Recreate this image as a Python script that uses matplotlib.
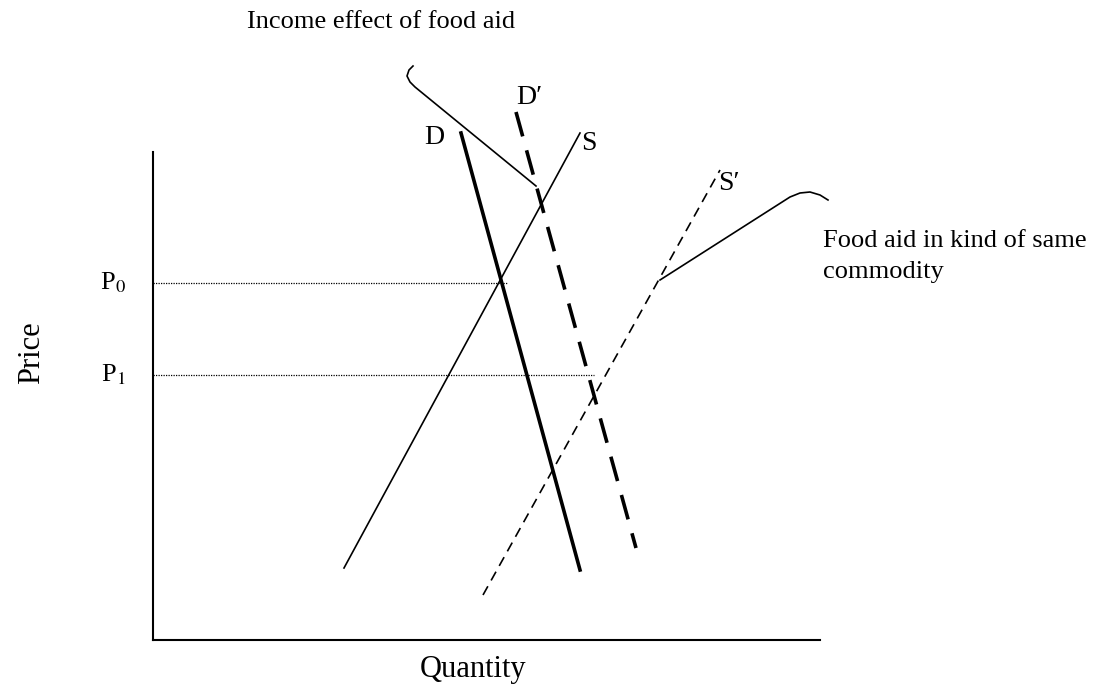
import matplotlib.pyplot as plt

# schematic drawn in pixel space of the original figure (x right, y down)
supply_S = ([344, 580], [568, 133])
supply_S2 = ([483, 720], [595, 170])
demand_D = ([461, 580], [133, 570])
demand_D2 = ([516, 636], [112, 548])
price_labels = ["P$_0$", "P$_1$"]
price_y = [283, 375]
price_xend = [508, 594]
curve_labels = ["S", "S′", "D", "D′"]
curve_label_x = [589, 729, 434, 529]
curve_label_y = [144, 183, 138, 97]
callout_top_x = [413, 409, 407, 410, 415, 536]
callout_top_y = [66, 70, 76, 82, 87, 186]
callout_right_x = [660, 790, 800, 810, 820, 828]
callout_right_y = [280, 197, 193, 192, 195, 200]

plt.rcParams['font.family'] = ['Liberation Serif', 'DejaVu Serif']
plt.rcParams['mathtext.fontset'] = 'stix'
fig = plt.figure(figsize=(11, 6.86), dpi=100)
ax = fig.add_axes([0, 0, 1, 1])
ax.set_xlim(0, 1100)
ax.set_ylim(686, 0)
ax.axis('off')

# axes of the diagram
ax.plot([153, 153], [152, 640], color='black', lw=1.5)
ax.plot([153, 820], [640, 640], color='black', lw=1.5)

ax.plot(*supply_S, color='black', lw=1.2)
ax.plot(*supply_S2, color='black', lw=1.2, dashes=(6, 4))
ax.plot(*demand_D, color='black', lw=2.6)
ax.plot(*demand_D2, color='black', lw=2.6, dashes=(7, 4))

for lab, y, xend in zip(price_labels, price_y, price_xend):
    ax.plot([153, xend], [y, y], color='black', lw=0.9, ls=(0, (1, 1)))
    ax.text(113, y, lab, fontsize=19, ha='center', va='center')

for lab, x, y in zip(curve_labels, curve_label_x, curve_label_y):
    ax.text(x, y, lab, fontsize=20, ha='center', va='center')

ax.plot(callout_top_x, callout_top_y, color='black', lw=1.2)
ax.plot(callout_right_x, callout_right_y, color='black', lw=1.2)

ax.text(247, 28, "Income effect of food aid", fontsize=19, ha='left', va='baseline')
ax.text(823, 247, "Food aid in kind of same", fontsize=19, ha='left', va='baseline')
ax.text(823, 278, "commodity", fontsize=19, ha='left', va='baseline')
ax.text(32, 353, "Price", fontsize=22, rotation=90, ha='center', va='center')
ax.text(473, 677, "Quantity", fontsize=22, ha='center', va='baseline')

fig.savefig('out.png', dpi=100)
